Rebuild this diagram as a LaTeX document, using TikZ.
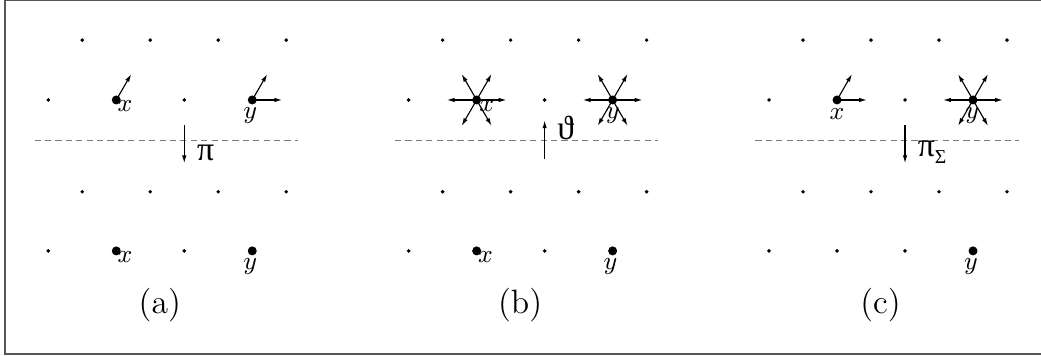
\documentclass[tikz,border=0pt]{standalone}
\usepackage{fontspec}
\usepackage{tikz}
\usetikzlibrary{arrows.meta}
\newfontfamily\greekfont{Liberation Serif}
\definecolor{framegray}{HTML}{555555}
\definecolor{cutgray}{HTML}{7A7A7A}

\begin{document}
\begin{tikzpicture}[x=0.85cm,y=0.85cm,
    vec/.style={-{Latex[length=2.8pt,width=1.6pt]}},
    lbl/.style={font=\small,inner sep=0pt},
    cut/.style={cutgray,dash pattern=on 2.2pt off 1.5pt}]
  \useasboundingbox (-2.71,-3.765) rectangle (12.60,1.47);
  \draw[framegray,line width=0.7pt] (12.8,1.47) -- (-2.63,1.47) -- (-2.63,-3.74) -- (12.8,-3.74);
  % the three lattices, each cut by the plane
  \foreach \p/\cap in {0/a,1/b,2/c} {
    \begin{scope}[shift={(5.3*\p,0)}]
      \foreach \i in {-1.5,-0.5,0.5,1.5} {
        \fill (\i,0.88) circle (0.7pt);
        \fill (\i,-1.35) circle (0.7pt);
      }
      \foreach \i in {-2,...,1} {
        \fill (\i,0) circle (0.7pt);
        \fill (\i,-2.22) circle (0.7pt);
      }
      \draw[cut] (-2.2,-0.6) -- (1.67,-0.6);
      \node[font=\large] (cap\cap) at (-0.36,-3.01) {(\cap)};
    \end{scope}
  }
  % (a)
  \coordinate (xa) at (-1,0);  \coordinate (ya) at (1,0);
  \coordinate (xa2) at (-1,-2.22); \coordinate (ya2) at (1,-2.22);
  \foreach \c in {xa,ya,xa2,ya2} \fill (\c) circle (1.6pt);
  \draw[vec] (xa) -- ++(60:0.44);
  \draw[vec] (ya) -- ++(60:0.44);
  \draw[vec] (ya) -- ++(0:0.44);
  \node[lbl] at ([shift={(0.13,-0.09)}]xa) {$x$};
  \node[lbl] at ([shift={(-0.03,-0.23)}]ya) {$y$};
  \node[lbl] at ([shift={(0.13,-0.09)}]xa2) {$x$};
  \node[lbl] at ([shift={(-0.03,-0.23)}]ya2) {$y$};
  \coordinate (pa) at (0,-0.37);
  \draw[vec] (pa) -- ++(0,-0.56) node[midway,right=1pt,yshift=-3pt,font=\large] (pilbl) {\greekfont π};
  % (b)
  \coordinate (xb) at (4.3,0);  \coordinate (yb) at (6.3,0);
  \coordinate (xb2) at (4.3,-2.22); \coordinate (yb2) at (6.3,-2.22);
  \foreach \c in {xb,yb,xb2,yb2} \fill (\c) circle (1.6pt);
  \foreach \a in {0,60,...,300} {
    \draw[vec] (xb) -- ++(\a:0.44);
    \draw[vec] (yb) -- ++(\a:0.44);
  }
  \node[lbl] at ([shift={(0.15,-0.09)}]xb) {$x$};
  \node[lbl] at ([shift={(0,-0.23)}]yb) {$y$};
  \node[lbl] at ([shift={(0.13,-0.09)}]xb2) {$x$};
  \node[lbl] at ([shift={(-0.03,-0.23)}]yb2) {$y$};
  \coordinate (pb) at (5.3,-0.87);
  \draw[vec] (pb) -- ++(0,0.57) node[pos=0.8,right=1pt,font=\large] (thlbl) {\greekfont ϑ};
  % (c)
  \coordinate (xc) at (9.6,0);  \coordinate (yc) at (11.6,0);
  \coordinate (yc2) at (11.6,-2.22);
  \foreach \c in {xc,yc,yc2} \fill (\c) circle (1.6pt);
  \draw[vec] (xc) -- ++(60:0.44);
  \draw[vec] (xc) -- ++(0:0.44);
  \foreach \a in {0,60,...,300}
    \draw[vec] (yc) -- ++(\a:0.44);
  \node[lbl] at ([shift={(0,-0.2)}]xc) {$x$};
  \node[lbl] at ([shift={(-0.01,-0.23)}]yc) {$y$};
  \node[lbl] at ([shift={(-0.03,-0.23)}]yc2) {$y$};
  \coordinate (pc) at (10.6,-0.37);
  \draw[vec] (pc) -- ++(0,-0.56) node[midway,right=1pt,yshift=-3pt,font=\large] (pslbl) {\greekfont π\raisebox{-0.45ex}{\scriptsize Σ}};
\end{tikzpicture}
\end{document}
